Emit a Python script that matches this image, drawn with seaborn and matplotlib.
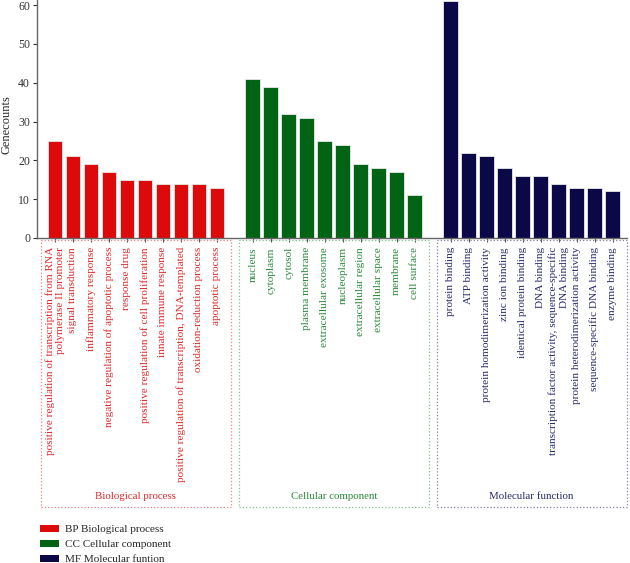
import pandas as pd
import matplotlib.pyplot as plt
import matplotlib.transforms as mtransforms
from matplotlib.patches import Rectangle, Patch
import seaborn as sns

# GO terms and gene counts
bp_terms = ['positive regulation of transcription from RNA\npolymerase II promoter',
            'signal transduction', 'inflammatory response',
            'negative regulation of apoptotic process', 'response drug',
            'positive regulation of cell proliferation', 'innate immune response',
            'positive regulation of transcription, DNA-templated',
            'oxidation-reduction process', 'apoptotic process']
bp_counts = [25, 21, 19, 17, 15, 15, 14, 14, 14, 13]

cc_terms = ['nucleus', 'cytoplasm', 'cytosol', 'plasma membrane',
            'extracellular exosome', 'nucleoplasm', 'extracellular region',
            'extracellular space', 'membrane', 'cell surface']
cc_counts = [41, 39, 32, 31, 25, 24, 19, 18, 17, 11]

mf_terms = ['protein binding', 'ATP binding', 'protein homodimerization activity',
            'zinc ion binding', 'identical protein binding', 'DNA binding',
            'transcription factor activity, sequence-specific\nDNA binding',
            'protein heterodimerization activity', 'sequence-specific DNA binding',
            'enzyme binding']
mf_counts = [61, 22, 21, 18, 16, 16, 14, 13, 13, 12]

groups = ['Biological process', 'Cellular component', 'Molecular function']
legend_labels = ['BP Biological process', 'CC Cellular component', 'MF Molecular funtion']
bar_colors = ['#dc0a0a', '#006414', '#0a0846']
text_colors = ['#e02828', '#2a8a3a', '#2a2a6e']
box_colors = ['#f08080', '#80c090', '#8080a8']


def build_frame():
    rows = []
    pos = 0
    for g, terms, counts in zip(groups, [bp_terms, cc_terms, mf_terms],
                                [bp_counts, cc_counts, mf_counts]):
        for t, c in zip(terms, counts):
            rows.append({'pos': pos, 'term': t, 'count': c, 'group': g})
            pos += 1
        pos += 1  # one empty slot between groups
    return pd.DataFrame(rows)


def main():
    sns.set_style('white')
    plt.rcParams['font.family'] = ['Liberation Serif', 'DejaVu Serif']

    df = build_frame()
    fig = plt.figure(figsize=(6.3, 5.63), dpi=100)
    ax = fig.add_axes([37 / 630, 325 / 563, 590 / 630, 238 / 563])

    sns.barplot(data=df, x='pos', y='count', hue='group', hue_order=groups,
                palette=bar_colors, saturation=1, native_scale=True, width=0.82,
                dodge=False, edgecolor='#e8e8e8', linewidth=0.6, legend=False,
                ax=ax)

    ax.set_xlim(-1.0, df['pos'].max() + 0.8)
    ax.set_ylim(0, 61.3)
    ax.set_yticks(range(0, 61, 10))
    ax.set_ylabel('Genecounts', fontsize=9)
    ax.yaxis.set_label_coords(-0.041, 0.475)
    ax.set_xlabel('')
    ax.set_xticks(df['pos'])
    ax.set_xticklabels(df['term'], rotation=90, fontsize=8.1,
                       multialignment='right')
    for lab, g in zip(ax.get_xticklabels(), df['group']):
        lab.set_color(text_colors[groups.index(g)])
    ax.tick_params(axis='both', direction='out', length=3, width=0.8,
                   color='#555555', bottom=True, left=True)
    ax.tick_params(axis='y', labelsize=8.5, colors='#333333', pad=2)
    for side in ['top', 'right']:
        ax.spines[side].set_visible(False)
    for side in ['left', 'bottom']:
        ax.spines[side].set_color('#666666')
        ax.spines[side].set_linewidth(1.0)

    # dotted group boxes below the axis
    trans = mtransforms.blended_transform_factory(ax.transData, ax.transAxes)
    for i, g in enumerate(groups):
        sub = df[df['group'] == g]
        x0 = sub['pos'].min() - 0.78
        x1 = sub['pos'].max() + 0.78
        rect = Rectangle((x0, -1.13), x1 - x0, 1.12, transform=trans,
                         fill=False, linestyle=':', linewidth=0.9,
                         edgecolor=box_colors[i], clip_on=False)
        ax.add_patch(rect)
        ax.text((x0 + x1) / 2, -1.085, g, transform=trans, ha='center',
                va='center', fontsize=7.8, color=text_colors[i])

    handles = [Patch(facecolor=c, edgecolor='none') for c in bar_colors]
    fig.legend(handles, legend_labels, loc='upper left',
               bbox_to_anchor=(32 / 630, 1 - 517 / 563), frameon=False,
               fontsize=8.0, handlelength=1.7, handleheight=0.6,
               labelspacing=0.5, handletextpad=0.6, borderpad=0.2)

    fig.savefig('out.png', dpi=100)


if __name__ == '__main__':
    main()
